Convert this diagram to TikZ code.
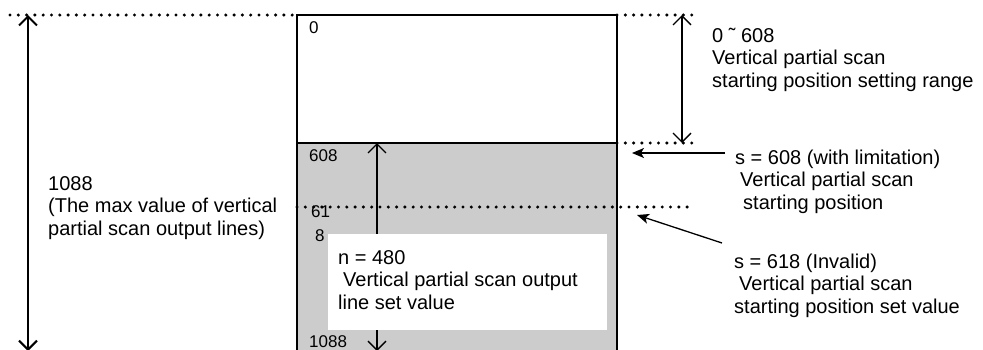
\documentclass[tikz,border=0pt]{standalone}
\usepackage{fontspec}
\setmainfont{Liberation Sans}
\usetikzlibrary{arrows.meta}

\begin{document}
\begin{tikzpicture}[x=1pt,y=-1pt,
  dots/.style={line width=3.4pt,line cap=round,dash pattern=on 0pt off 8.3pt},
  barb/.style={{Straight Barb[length=9pt,width=18pt]}-{Straight Barb[length=9pt,width=18pt]}},
  pointer/.style={-{Stealth[length=12pt,width=10pt,inset=3pt]},line width=1.3pt},
  txt/.style={anchor=base west,align=left,inner sep=0pt,font=\fontsize{20}{22.5}\selectfont},
  lbl/.style={anchor=base west,inner sep=0pt,font=\fontsize{17}{20}\selectfont}]
  \useasboundingbox (0,0) rectangle (983,349);
  \coordinate (tl) at (297,15); \coordinate (tr) at (617,15);
  \coordinate (ml) at (297,143); \coordinate (mr) at (617,143);
  \coordinate (bl) at (297,360); \coordinate (br) at (617,360);
  \coordinate (sl) at (297,207); \coordinate (sr) at (692,207);

  % sensor area
  \fill[gray!40] (ml) rectangle (br);
  \draw[line width=1.2pt] (ml) -- (mr);
  \draw[line width=2.3pt] (bl) -- (tl) -- (tr) -- (br);

  % levels
  \draw[dots] (10,15) -- (tl);
  \draw[dots] (tr) -- (695,15);
  \draw[dots] (mr) -- (695,143);
  \draw[dots] (sl) -- (sr);

  \node[lbl] (l0) at (309,33) {0};
  \node[lbl] (l608) at (309,161) {608};
  \node[lbl] (l61) at (311,217) {61};
  \node[lbl] (l8) at (315,241) {8};
  \node[lbl] (l1088) at (309,347) {1088};

  % dimensions
  \coordinate (maxtop) at (28,15); \coordinate (maxbot) at (28,351);
  \draw[barb,line width=2pt] (maxtop) -- (maxbot);
  \coordinate (rngtop) at (682,15); \coordinate (rngbot) at (682,143);
  \draw[barb,line width=1.3pt] (rngtop) -- (rngbot);
  \coordinate (ntop) at (377,143); \coordinate (nbot) at (377,351);
  \draw[barb,line width=1.3pt] (ntop) -- (nbot);

  % base anchor = last line
  \fill[white] (328,234) rectangle (607,330);
  \node[txt] (nval) at (338,309) {n = 480\\\hspace{5pt}Vertical partial scan output\\line set value};

  \node[txt] (maxval) at (48,235) {1088\\(The max value of vertical\\partial scan output lines)};
  \node[txt] (rng) at (712,87) {0 ˜ 608\\Vertical partial scan\\starting position setting range};
  \node[txt] (s608) at (735,209) {s = 608 (with limitation)\\\hspace{5pt}Vertical partial scan\\\hspace{8pt}starting position};
  \node[txt] (s618) at (734,313) {s = 618 (Invalid)\\\hspace{5pt}Vertical partial scan\\starting position set value};

  \coordinate (p608) at (632,153); \coordinate (p618) at (637,215);
  \draw[pointer] (725,153) -- (p608);
  \draw[pointer] (722,243) -- (p618);
\end{tikzpicture}
\end{document}
